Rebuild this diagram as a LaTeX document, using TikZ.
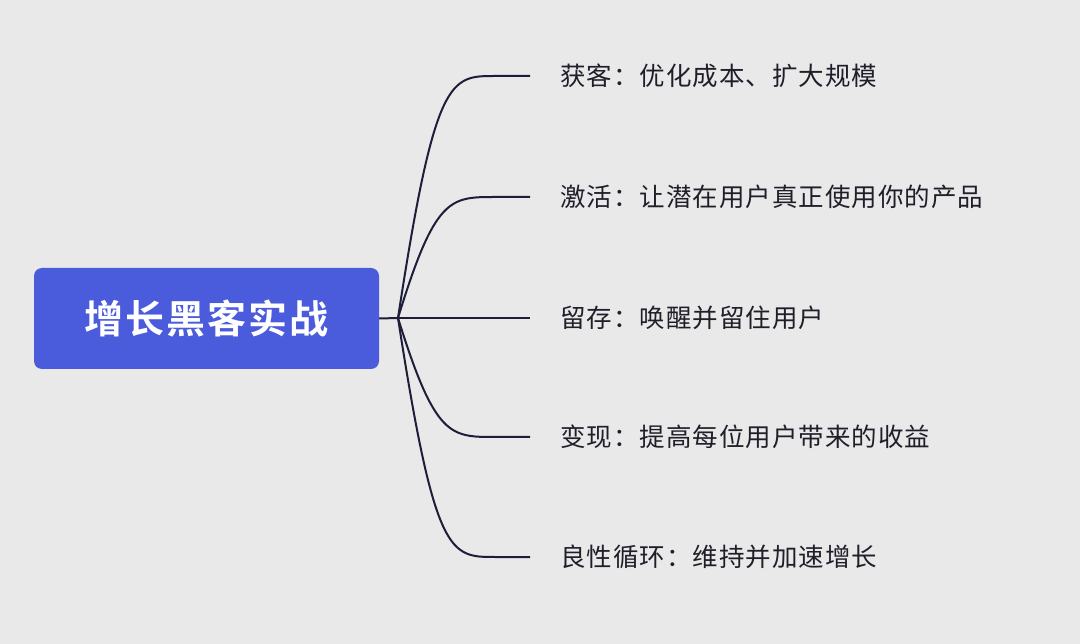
\documentclass[tikz,border=0pt]{standalone}
\usepackage{fontspec}
\setmainfont{Noto Sans CJK SC}
\newfontfamily\lblf[LetterSpace=4]{Noto Sans CJK SC}
\newfontfamily\cjkb[LetterSpace=5]{Noto Sans CJK SC Bold}
\definecolor{bg}{HTML}{E9E9E9}
\definecolor{rootc}{HTML}{4A5BDC}
\definecolor{linec}{HTML}{1E1E3A}
\definecolor{txtc}{HTML}{1F1F2A}
\begin{document}
\begin{tikzpicture}[x=1pt,y=-1pt,
  lbl/.style={anchor=west,text=txtc,font=\lblf\fontsize{25.5}{30}\selectfont,inner sep=0pt},
  conn/.style={draw=linec,line width=2pt}]
\fill[bg] (0,0) rectangle (1080,644);
\useasboundingbox (0,0) rectangle (1080,644);
\node[fill=rootc,rounded corners=8pt,minimum width=345pt,minimum height=101pt,text=white,font=\cjkb\fontsize{39}{45}\selectfont] (root) at (206.5,318.5) {增长黑客实战};
\coordinate (o) at (398,318);
\draw[conn] (root.east) -- (o);
\foreach \y/\t/\n in {76/{获客：优化成本、扩大规模}/a,197/{激活：让潜在用户真正使用你的产品}/b,318/{留存：唤醒并留住用户}/c,437/{变现：提高每位用户带来的收益}/d,557/{良性循环：维持并加速增长}/e}{
  \coordinate (\n s) at (495,\y);
  \coordinate (\n e) at (530,\y);
  \node[lbl] (\n) at (560,\y) {\t};
  \draw[conn] (o) .. controls (435,\y) and (450,\y) .. (\n s) -- (\n e);
}
\end{tikzpicture}
\end{document}
